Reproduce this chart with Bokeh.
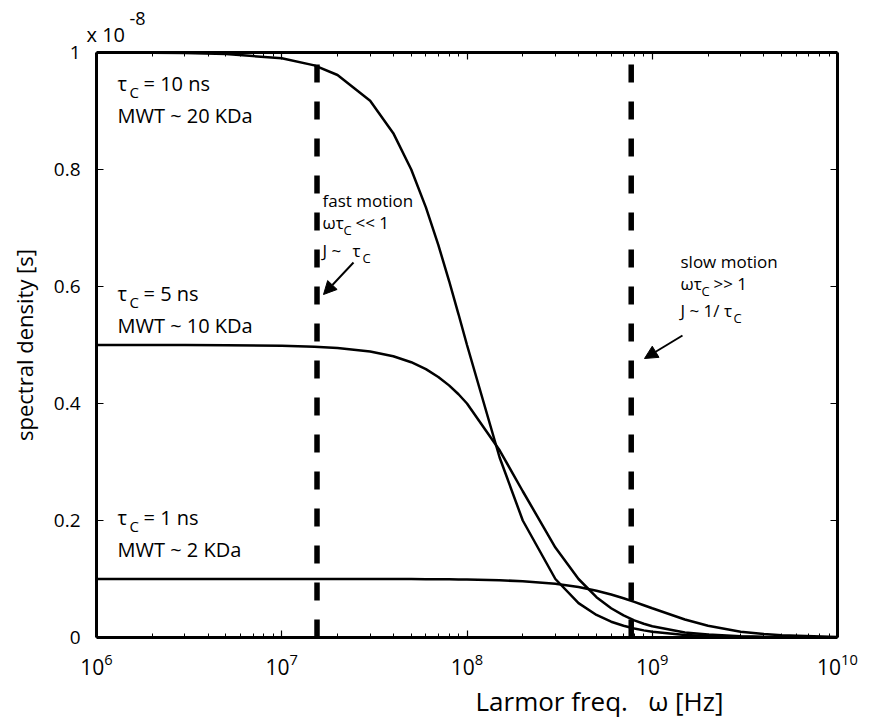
from bokeh.plotting import figure
from bokeh.models import (Range1d, LogAxis, LinearAxis, FixedTicker, Label, Arrow, Title,
                          NormalHead, NumeralTickFormatter, CustomJSTickFormatter)
from bokeh.embed import file_html
from bokeh.resources import INLINE

# ---- data ----
omega = [1e6, 2e6, 3e6, 5e6,
         1e7, 1.5e7, 2e7, 3e7, 4e7, 5e7, 6e7, 7e7, 8e7, 9e7,
         1e8, 1.5e8, 2e8, 3e8, 4e8, 5e8, 6e8, 7e8, 8e8, 9e8,
         1e9, 1.5e9, 2e9, 3e9, 4e9, 5e9,
         1e10]
J_10ns = [1.000, 0.9996, 0.9991, 0.9975,
          0.9901, 0.9780, 0.9615, 0.9174, 0.8621, 0.8000, 0.7353, 0.6711, 0.6098, 0.5525,
          0.5000, 0.3077, 0.2000, 0.1000, 0.0588, 0.0385, 0.0270, 0.0200, 0.0154, 0.0122,
          0.0099, 0.0044, 0.0025, 0.0011, 0.0006, 0.0004,
          0.0001]
J_5ns = [0.5000, 0.5000, 0.4999, 0.4997,
         0.4988, 0.4972, 0.4950, 0.4890, 0.4808, 0.4706, 0.4587, 0.4454, 0.4310, 0.4158,
         0.4000, 0.3200, 0.2500, 0.1538, 0.1000, 0.0690, 0.0500, 0.0377, 0.0294, 0.0235,
         0.0192, 0.0087, 0.0050, 0.0022, 0.0012, 0.0008,
         0.0002]
J_1ns = [0.1000, 0.1000, 0.1000, 0.1000,
         0.1000, 0.1000, 0.0999, 0.0999, 0.0998, 0.0998, 0.0996, 0.0995, 0.0994, 0.0992,
         0.0990, 0.0978, 0.0962, 0.0917, 0.0862, 0.0800, 0.0735, 0.0671, 0.0610, 0.0552,
         0.0500, 0.0308, 0.0200, 0.0100, 0.0059, 0.0038,
         0.0010]
regime_lines = [1.55e7, 7.7e8]          # dashed vertical markers
x_major_ticks = [1e6, 1e7, 1e8, 1e9, 1e10]
x_minor_ticks = [m * 10 ** k for k in range(6, 10) for m in range(2, 10)]
y_ticks = [0, 0.2, 0.4, 0.6, 0.8, 1.0]

FONT = "Open Sans"
L, R, T, B = 96, 837, 52, 637


def X(px):
    return 10 ** (6 + 4 * (px - L) / (R - L))


def Y(py):
    return (B - py) / (B - T)


p = figure(width=873, height=723, x_axis_type="log",
           x_range=Range1d(1e6, 1e10), y_range=Range1d(0, 1),
           output_backend="svg", toolbar_location=None,
           min_border_left=L, min_border_right=873 - R,
           min_border_top=T, min_border_bottom=723 - B)
p.grid.visible = False
p.outline_line_color = None
p.background_fill_color = "white"
p.border_fill_color = "white"


def style_axis(ax):
    ax.axis_line_width = 3
    ax.axis_line_color = "black"
    ax.major_tick_in = 7
    ax.major_tick_out = 0
    ax.minor_tick_in = 4
    ax.minor_tick_out = 0
    ax.major_tick_line_width = 1.2
    ax.minor_tick_line_width = 1
    ax.major_label_text_font = FONT
    ax.major_label_text_color = "black"


xt = FixedTicker(ticks=x_major_ticks, minor_ticks=x_minor_ticks)
xa = p.xaxis[0]
xa.ticker = xt
style_axis(xa)
xa.major_label_text_font_size = "21px"
xa.major_label_standoff = 15

ya = p.yaxis[0]
ya.ticker = FixedTicker(ticks=y_ticks)
ya.formatter = NumeralTickFormatter(format="0.[0]")
style_axis(ya)
ya.minor_tick_line_color = None
ya.major_label_text_font_size = "19px"
ya.major_label_standoff = 16
ya.axis_label = "spectral density [s]"
ya.axis_label_text_font = FONT
ya.axis_label_text_font_size = "22px"
ya.axis_label_text_font_style = "normal"
ya.axis_label_text_color = "black"
ya.axis_label_standoff = 12

empty = CustomJSTickFormatter(code="return ''")
top = LogAxis(ticker=FixedTicker(ticks=x_major_ticks, minor_ticks=x_minor_ticks), formatter=empty)
style_axis(top)
top.major_label_standoff = 0
p.add_layout(top, "above")
right = LinearAxis(ticker=FixedTicker(ticks=y_ticks), formatter=empty)
style_axis(right)
right.minor_tick_line_color = None
right.major_label_standoff = 0
p.add_layout(right, "right")

# curves
for J in (J_10ns, J_5ns, J_1ns):
    p.line(omega, J, line_color="black", line_width=2.5)

# dashed regime lines
for xd in regime_lines:
    p.line([xd, xd], [0, 1], line_color="black", line_width=5.5, line_dash="18 19")


def lab(px, py, text, size, align="left"):
    p.add_layout(Label(x=X(px), y=Y(py), text=text, text_font=FONT,
                       text_font_size=f"{size}px", text_color="black",
                       text_baseline="middle", text_align=align))


# tau_c annotations
for (yy, tau, mwt) in [(83, "= 10 ns", "MWT ~ 20 KDa"),
                       (293, "= 5 ns", "MWT ~ 10 KDa"),
                       (517, "= 1 ns", "MWT ~ 2 KDa")]:
    lab(117, yy, "τ", 20)
    lab(129, yy + 8, "C", 15)
    lab(143, yy, tau, 20)
    lab(117, yy + 32, mwt, 20)

# fast motion
lab(322, 200, "fast motion", 17)
lab(322, 222, "ωτ", 17)
lab(343, 229, "C", 13)
lab(355, 222, "<< 1", 17)
lab(322, 250, "J ~", 17)
lab(352, 250, "τ", 17)
lab(362, 257, "C", 13)

# slow motion
lab(680, 261, "slow motion", 17)
lab(680, 283, "ωτ", 17)
lab(701, 290, "C", 13)
lab(713, 283, ">> 1", 17)
lab(680, 310, "J ~ 1/ τ", 17)
lab(733, 317, "C", 13)

# arrows
p.add_layout(Arrow(end=NormalHead(size=13, fill_color="black", line_color="black"),
                   x_start=X(353), y_start=Y(262), x_end=X(323), y_end=Y(294),
                   line_width=2, line_color="black"))
p.add_layout(Arrow(end=NormalHead(size=13, fill_color="black", line_color="black"),
                   x_start=X(682), y_start=Y(335), x_end=X(644), y_end=Y(358),
                   line_width=2, line_color="black"))

# exponent multiplier (outside the frame -> titles)
p.add_layout(Title(text="x 10", align="left", offset=-10, text_font=FONT,
                   text_font_size="20px", text_font_style="normal",
                   text_color="black", standoff=10), "above")
p.add_layout(Title(text="-8", align="left", offset=33, text_font=FONT,
                   text_font_size="18px", text_font_style="normal",
                   text_color="black", standoff=-23), "above")

# x-axis label
p.add_layout(Title(text="Larmor freq.\u00a0\u00a0\u00a0ω [Hz]", align="left", offset=379,
                   text_font=FONT, text_font_size="26px", text_font_style="normal",
                   text_color="black", standoff=6), "below")

open("out.html", "w").write(file_html(p, INLINE))
